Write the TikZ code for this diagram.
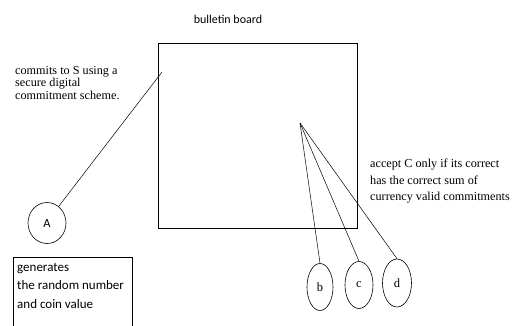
\documentclass[tikz,border=0pt]{standalone}
\usepackage{fontspec}
\setmainfont{Liberation Serif}
\newfontfamily\labelsans{Carlito}
\usetikzlibrary{shapes.geometric}
\begin{document}
\begin{tikzpicture}[x=1pt,y=-1pt,
  party/.style={draw,ellipse,inner sep=0pt,line width=0.6pt,font=\fontsize{12.5}{14}\selectfont},
  wire/.style={line width=0.5pt},
  note/.style={align=left,inner sep=0pt,anchor=north west}]
\useasboundingbox (0,0) rectangle (515,325);

% bulletin board
\node[font=\labelsans\fontsize{12}{14}\selectfont] (title) at (228,19) {bulletin board};
\draw[line width=0.8pt] (158,43) rectangle (357,228);
\coordinate (entry) at (162,72);
\coordinate (hub) at (300,123);

% participant A and its notes
\node[party,minimum width=38pt,minimum height=41pt,font=\labelsans\fontsize{12.5}{14}\selectfont] (A) at (47,223) {A};
\node[note,font=\fontsize{12.2}{12.6}\selectfont] (commit) at (15,66) {commits to S using a\\secure digital\\commitment scheme.};
\draw[line width=0.6pt] (13,257) rectangle (132,340);
\node[note,font=\labelsans\fontsize{13}{18.5}\selectfont] (gen) at (17,263) {generates\\the random number\\and coin value};

% verifiers b, c, d
\node[party,minimum width=26pt,minimum height=47pt] (b) at (320,287) {b};
\node[party,minimum width=28pt,minimum height=47pt] (c) at (359,285) {c};
\node[party,minimum width=29pt,minimum height=48pt] (d) at (397,283) {d};
\node[note,font=\fontsize{12.2}{16.5}\selectfont] (accept) at (370,159) {accept C only if its correct\\has the correct sum of\\currency valid commitments};

% connectors
\draw[wire] (A.55) -- (entry);
\draw[wire] (hub) -- (b.north);
\draw[wire] (hub) -- (c.north);
\draw[wire] (hub) -- (d.north);
\end{tikzpicture}
\end{document}
